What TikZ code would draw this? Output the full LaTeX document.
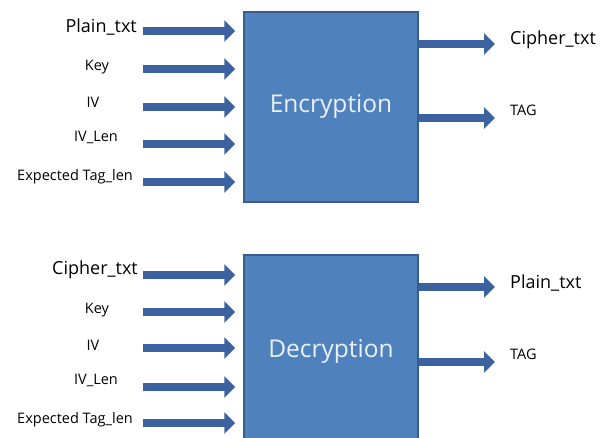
\documentclass[tikz,border=0pt]{standalone}
\usepackage{fontspec}
\setmainfont{Open Sans}
\usetikzlibrary{arrows.meta}
\definecolor{boxfill}{HTML}{4F81BD}
\definecolor{boxline}{HTML}{385D8A}
\definecolor{arrcol}{HTML}{3C62A0}
\definecolor{boxtext}{HTML}{EAF0F8}
\begin{document}
\begin{tikzpicture}[x=1pt,y=-1pt,
  blk/.style={draw=boxline,fill=boxfill,line width=1.5pt,minimum width=174pt,minimum height=190pt,inner sep=0pt},
  blktext/.style={text=boxtext,font=\fontsize{24.5}{28}\selectfont,inner sep=0pt},
  arr/.style={draw=arrcol,line width=7.5pt,-{Triangle[length=11pt,width=21pt]}},
  big/.style={font=\fontsize{18}{21}\selectfont,inner sep=0pt},
  sml/.style={font=\fontsize{14.5}{17}\selectfont,inner sep=0pt}]
\useasboundingbox (0,0) rectangle (601,437);
% Encryption
\node[blk] (enc) at (331,107) {};
\node[blktext] (enct) at (331,106) {Encryption};
\node[big,anchor=east] (e1) at (137,27) {Plain\_txt};
\node[sml] (e2) at (97,67) {Key};
\node[sml] (e3) at (93,102) {IV};
\node[sml] (e4) at (96,137) {IV\_Len};
\node[sml,anchor=east] (e5) at (133,177) {Expected Tag\_len};
\foreach \i/\y in {1/31,2/69,3/107,4/144,5/182}{
  \coordinate (es\i) at (143,\y);
  \draw[arr,shorten >=8pt] (es\i) -- (es\i -| enc.west);
}
\coordinate (eo1) at (495,44);
\coordinate (eo2) at (495,118);
\draw[arr] (enc.east |- eo1) -- (eo1);
\draw[arr] (enc.east |- eo2) -- (eo2);
\node[big,anchor=west] (ec) at (510,40) {Cipher\_txt};
\node[sml,anchor=west] (et) at (510,110) {TAG};
% Decryption
\node[blk] (dec) at (331,350) {};
\node[blktext] (dect) at (331,351) {Decryption};
\node[big,anchor=east] (d1) at (138,270) {Cipher\_txt};
\node[sml] (d2) at (97,310) {Key};
\node[sml] (d3) at (93,345) {IV};
\node[sml] (d4) at (96,380) {IV\_Len};
\node[sml,anchor=east] (d5) at (133,420) {Expected Tag\_len};
\foreach \i/\y in {1/275,2/312,3/348,4/387,5/423}{
  \coordinate (ds\i) at (143,\y);
  \draw[arr,shorten >=8pt] (ds\i) -- (ds\i -| dec.west);
}
\coordinate (do1) at (495,287);
\coordinate (do2) at (495,362);
\draw[arr] (dec.east |- do1) -- (do1);
\draw[arr] (dec.east |- do2) -- (do2);
\node[big,anchor=west] (dp) at (510,283) {Plain\_txt};
\node[sml,anchor=west] (dt) at (510,354) {TAG};
\end{tikzpicture}
\end{document}
